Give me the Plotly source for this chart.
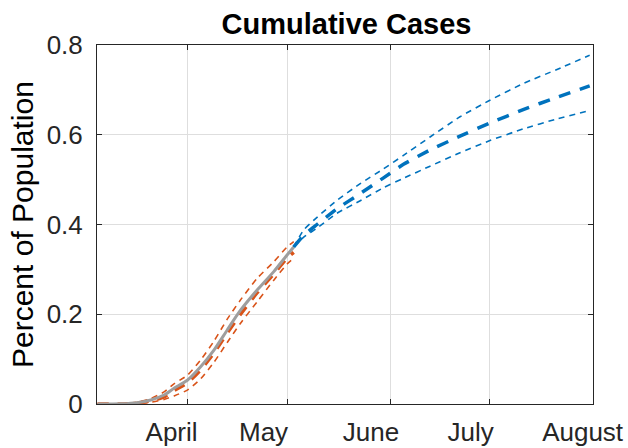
import plotly.graph_objects as go

# ---- data ----
fit_dates = ["2020-03-05", "2020-03-12", "2020-03-17", "2020-03-21", "2020-03-25",
             "2020-03-28", "2020-04-01", "2020-04-05", "2020-04-09", "2020-04-13",
             "2020-04-17", "2020-04-22", "2020-04-27", "2020-05-01", "2020-05-03"]
observed = [0, 0.0005, 0.003, 0.009, 0.020, 0.035, 0.053, 0.083, 0.120, 0.165,
            0.209, 0.254, 0.295, 0.332, 0.350]
fit_mid = [0, 0, 0.002, 0.007, 0.016, 0.030, 0.047, 0.076, 0.114, 0.158,
           0.200, 0.248, 0.290, 0.325, 0.338]
fit_hi = [0, 0.0005, 0.004, 0.012, 0.027, 0.045, 0.064, 0.098, 0.140, 0.189,
          0.232, 0.280, 0.317, 0.350, 0.362]
fit_lo = [0, 0, 0.001, 0.004, 0.010, 0.018, 0.031, 0.056, 0.093, 0.137,
          0.180, 0.228, 0.276, 0.312, 0.325]

proj_dates = ["2020-05-03", "2020-05-06", "2020-05-10", "2020-05-16", "2020-05-23",
              "2020-05-30", "2020-06-05", "2020-06-13", "2020-06-22", "2020-07-01",
              "2020-07-11", "2020-07-21", "2020-07-31"]
proj_mid = [0.350, 0.376, 0.400, 0.435, 0.469, 0.504, 0.534, 0.566, 0.597, 0.626,
            0.656, 0.683, 0.709]
proj_hi = [0.350, 0.388, 0.416, 0.454, 0.491, 0.524, 0.554, 0.595, 0.640, 0.677,
           0.714, 0.745, 0.777]
proj_lo = [0.350, 0.372, 0.392, 0.425, 0.453, 0.482, 0.503, 0.530, 0.560, 0.587,
           0.613, 0.635, 0.654]

grid_ticks = ["2020-04-01", "2020-05-01", "2020-06-01", "2020-07-01", "2020-08-01"]
label_pos = ["2020-03-27 06:00", "2020-04-23 22:00", "2020-05-26 06:00",
             "2020-06-25 05:00", "2020-07-28 21:00"]
month_labels = ["April", "May", "June", "July", "August"]
y_ticks = [0, 0.2, 0.4, 0.6, 0.8]
y_labels = ["0", "0.2", "0.4", "0.6", "0.8"]

x_range = ["2020-03-04 20:00", "2020-08-01"]

ORANGE = "#D95319"
BLUE = "#0072BD"
GRAY = "#9E9E9E"
TXT = "#262626"
FONT = "Liberation Sans, Arial, sans-serif"

fig = go.Figure()
for ys in (fit_hi, fit_lo):
    fig.add_trace(go.Scatter(x=fit_dates, y=ys, mode="lines",
                             line=dict(color=ORANGE, width=1.6, dash="6px,5px", shape="spline", smoothing=0.6)))
fig.add_trace(go.Scatter(x=fit_dates, y=fit_mid, mode="lines",
                         line=dict(color=ORANGE, width=3.5, dash="11px,9px", shape="spline", smoothing=0.6)))
fig.add_trace(go.Scatter(x=fit_dates, y=observed, mode="lines",
                         line=dict(color=GRAY, width=3, shape="spline", smoothing=0.6)))
for ys in (proj_hi, proj_lo):
    fig.add_trace(go.Scatter(x=proj_dates, y=ys, mode="lines",
                             line=dict(color=BLUE, width=1.6, dash="6px,5px", shape="spline", smoothing=0.5)))
fig.add_trace(go.Scatter(x=proj_dates, y=proj_mid, mode="lines",
                         line=dict(color=BLUE, width=3.5, dash="12px,10px", shape="spline", smoothing=0.5)))
# invisible trace to activate the label axis
fig.add_trace(go.Scatter(x=label_pos, y=[None] * len(label_pos), xaxis="x2",
                         mode="markers", hoverinfo="skip"))

fig.update_layout(
    width=628, height=448,
    margin=dict(l=97, r=35, t=45, b=44),
    paper_bgcolor="white", plot_bgcolor="white",
    showlegend=False,
    font=dict(family=FONT, color=TXT),
    title=dict(text="<b>Cumulative Cases</b>", x=346.5 / 628, xanchor="center",
               y=1 - 24 / 448, yanchor="middle",
               font=dict(family=FONT, size=29, color="black")),
    xaxis=dict(type="date", range=x_range, tickvals=grid_ticks, showticklabels=False,
               showgrid=True, gridcolor="#DEDEDE", gridwidth=1, automargin=False,
               showline=True, linecolor=TXT, linewidth=1, mirror="ticks",
               ticks="inside", ticklen=5, tickcolor=TXT, zeroline=False),
    xaxis2=dict(type="date", range=x_range, overlaying="x", side="bottom",
                tickvals=label_pos, ticktext=month_labels, ticks="", automargin=False,
                showgrid=False, showline=False, zeroline=False,
                tickfont=dict(family=FONT, size=26, color=TXT), ticklabelstandoff=10),
    yaxis=dict(range=[0, 0.8], tickvals=y_ticks, ticktext=y_labels, automargin=False,
               showgrid=True, gridcolor="#DEDEDE", gridwidth=1,
               showline=True, linecolor=TXT, linewidth=1, mirror="ticks",
               ticks="inside", ticklen=5, tickcolor=TXT, zeroline=False,
               tickfont=dict(family=FONT, size=26, color=TXT), ticklabelstandoff=8),
    annotations=[dict(text="Percent of Population", xref="paper", yref="paper",
                      x=(22 - 97) / 496, y=(404 - 225) / 359, textangle=-90,
                      showarrow=False, xanchor="center", yanchor="middle",
                      font=dict(family=FONT, size=30, color="black"))],
)

fig.write_html("out.html")
